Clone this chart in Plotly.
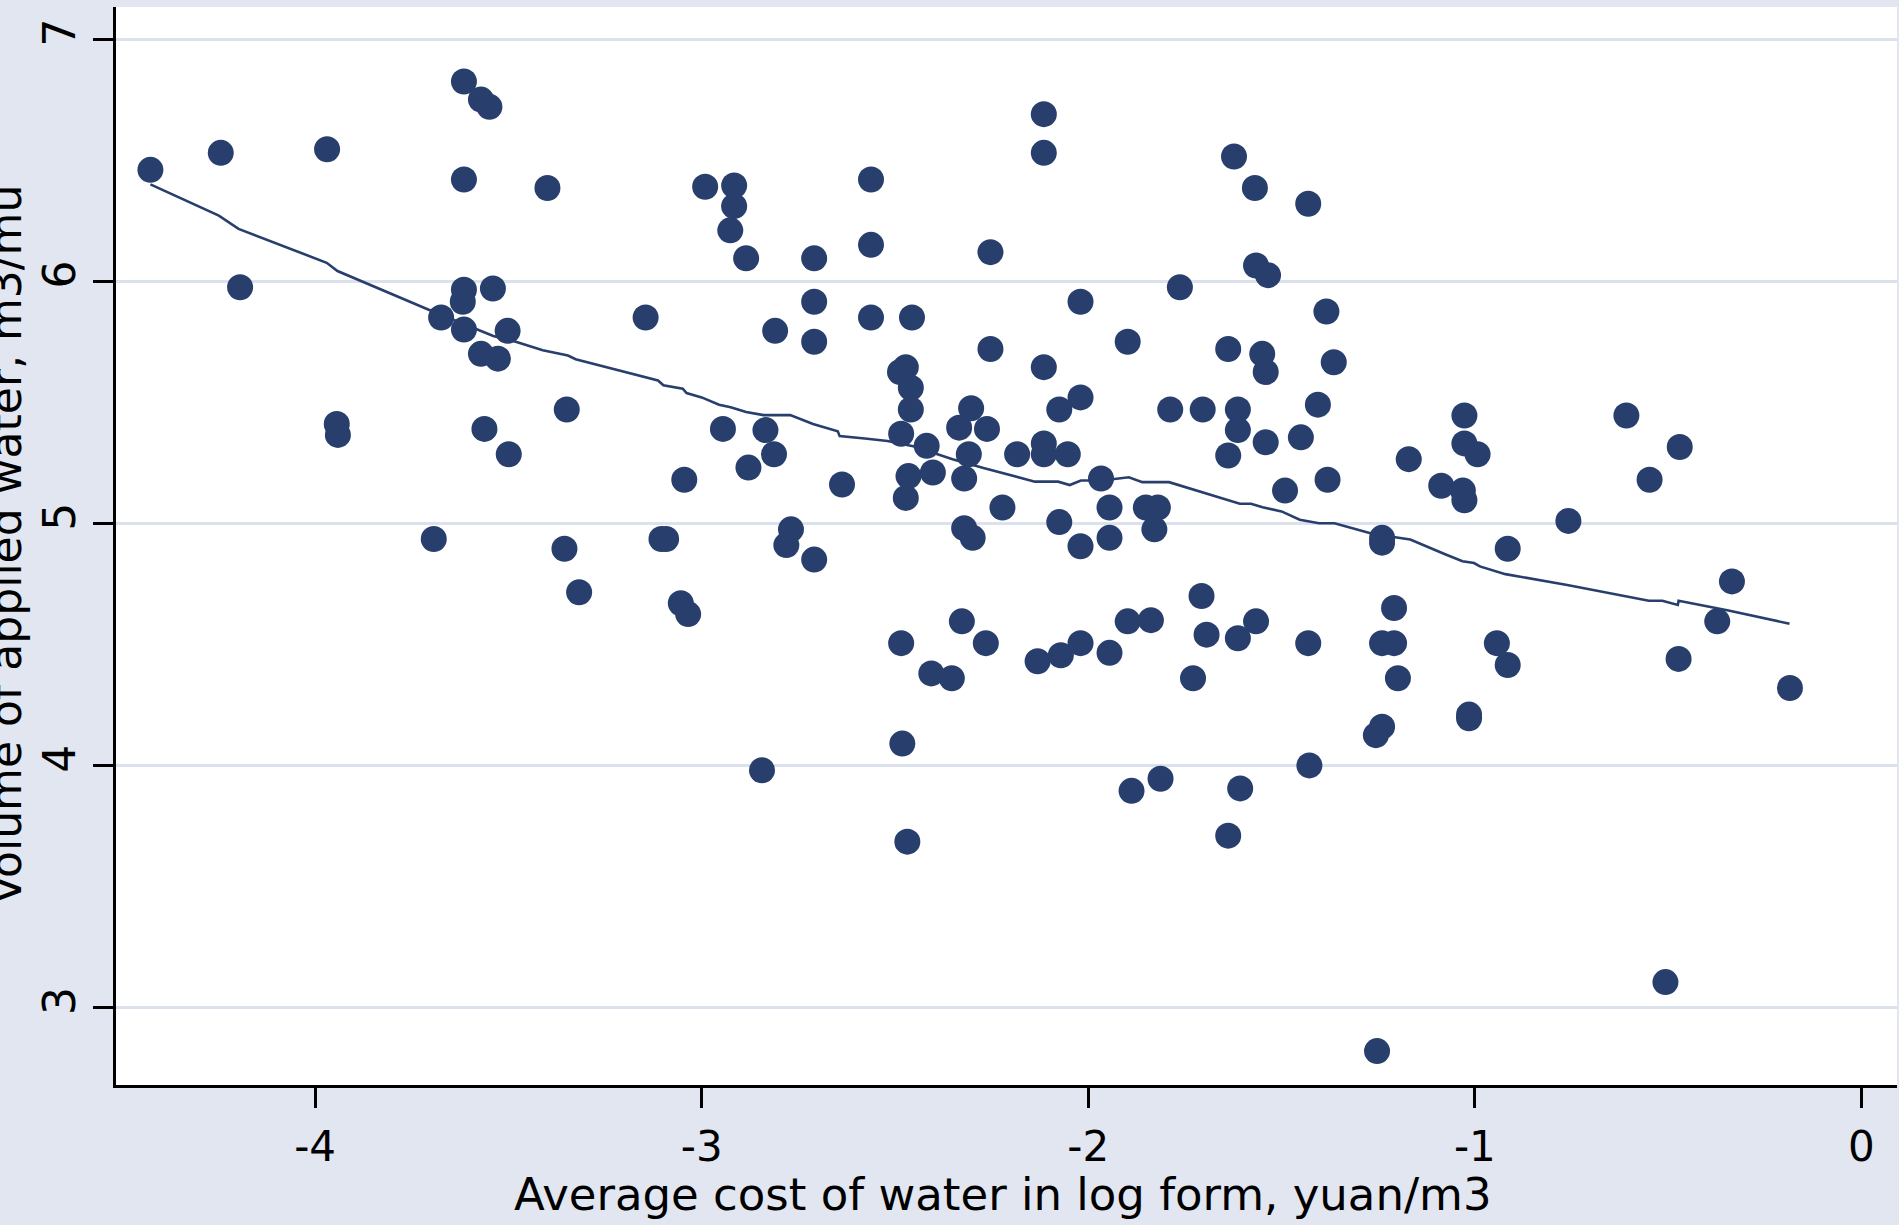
import plotly.graph_objects as go

# Scatter data: log average cost of water (x) vs volume of applied water (y)
cost_log = [
    -4.426, -4.244, -4.194, -3.969, -3.944, -3.941, -3.693, -3.674, -3.615, -3.571,
    -3.549, -3.615, -3.615, -3.618, -3.615, -3.571, -3.540, -3.527, -3.502, -3.562,
    -3.499, -3.399, -3.349, -3.355, -3.317, -3.145, -3.104, -3.092, -3.045, -3.054,
    -3.035, -2.991, -2.916, -2.916, -2.926, -2.885, -2.945, -2.879, -2.835, -2.810,
    -2.813, -2.844, -2.769, -2.781, -2.709, -2.709, -2.709, -2.709, -2.637, -2.562,
    -2.562, -2.562, -2.456, -2.472, -2.487, -2.459, -2.459, -2.484, -2.465, -2.472,
    -2.418, -2.402, -2.484, -2.481, -2.468, -2.406, -2.353, -2.334, -2.303, -2.309,
    -2.262, -2.321, -2.321, -2.299, -2.327, -2.265, -2.253, -2.253, -2.222, -2.184,
    -2.115, -2.115, -2.115, -2.115, -2.115, -2.131, -2.075, -2.053, -2.075, -2.071,
    -2.020, -2.020, -2.020, -2.020, -1.967, -1.945, -1.945, -1.945, -1.898, -1.898,
    -1.888, -1.838, -1.851, -1.820, -1.829, -1.813, -1.788, -1.763, -1.729, -1.707,
    -1.694, -1.704, -1.638, -1.638, -1.638, -1.623, -1.613, -1.613, -1.613, -1.607,
    -1.569, -1.566, -1.535, -1.550, -1.541, -1.541, -1.566, -1.491, -1.450, -1.431,
    -1.431, -1.428, -1.406, -1.384, -1.381, -1.365, -1.240, -1.240, -1.240, -1.209,
    -1.209, -1.199, -1.240, -1.256, -1.253, -1.171, -1.087, -1.027, -1.027, -1.031,
    -1.027, -0.993, -1.015, -1.015, -0.943, -0.915, -0.915, -0.758, -0.608, -0.548,
    -0.507, -0.470, -0.473, -0.373, -0.335, -0.185,
]
water_volume = [
    6.460, 6.530, 5.975, 6.545, 5.410, 5.365, 4.935, 5.850, 6.825, 6.750,
    6.720, 6.420, 5.965, 5.915, 5.800, 5.700, 5.970, 5.680, 5.795, 5.390,
    5.285, 6.385, 5.470, 4.895, 4.715, 5.850, 4.935, 4.935, 5.180, 4.670,
    4.625, 6.390, 6.395, 6.310, 6.210, 6.095, 5.390, 5.230, 5.385, 5.795,
    5.285, 3.980, 4.975, 4.910, 4.850, 6.095, 5.915, 5.750, 5.160, 6.420,
    6.150, 5.850, 5.850, 5.645, 5.625, 5.560, 5.470, 5.370, 5.195, 5.105,
    5.320, 5.210, 4.505, 4.090, 3.685, 4.380, 4.360, 5.395, 5.475, 5.285,
    5.390, 5.185, 4.980, 4.940, 4.595, 4.505, 6.120, 5.720, 5.065, 5.285,
    6.690, 6.530, 5.645, 5.330, 5.285, 4.430, 5.470, 5.285, 5.005, 4.455,
    5.915, 5.520, 4.905, 4.505, 5.185, 5.065, 4.940, 4.465, 5.750, 4.595,
    3.895, 4.600, 5.065, 5.065, 4.975, 3.945, 5.470, 5.975, 4.360, 4.700,
    4.540, 5.470, 5.280, 5.720, 3.710, 6.515, 5.470, 5.385, 4.525, 3.905,
    6.385, 6.065, 6.025, 5.700, 5.625, 5.335, 4.595, 5.135, 5.355, 6.320,
    4.505, 4.000, 5.490, 5.875, 5.180, 5.665, 4.940, 4.920, 4.505, 4.505,
    4.650, 4.360, 4.160, 4.125, 2.820, 5.265, 5.155, 5.445, 5.330, 5.135,
    5.095, 5.285, 4.195, 4.210, 4.505, 4.415, 4.895, 5.010, 5.445, 5.180,
    3.105, 5.315, 4.440, 4.595, 4.760, 4.320,
]

# Lowess smoother
smooth_x = [
    -4.426, -4.249, -4.198, -3.970, -3.942, -3.703, -3.539, -3.485, -3.411, -3.346,
    -3.326, -3.113, -3.099, -3.049, -3.039, -3.000, -2.955, -2.925, -2.885, -2.840,
    -2.771, -2.712, -2.648, -2.643, -2.578, -2.519, -2.450, -2.351, -2.271, -2.182,
    -2.138, -2.078, -2.048, -2.019, -1.965, -1.895, -1.860, -1.791, -1.736, -1.707,
    -1.638, -1.608, -1.579, -1.549, -1.500, -1.453, -1.403, -1.363, -1.263, -1.167,
    -1.077, -1.032, -1.002, -0.987, -0.921, -0.761, -0.550, -0.515, -0.475, -0.473,
    -0.344, -0.186,
]
smooth_y = [
    6.400, 6.271, 6.216, 6.076, 6.042, 5.880, 5.774, 5.752, 5.715, 5.693,
    5.678, 5.590, 5.570, 5.556, 5.538, 5.520, 5.490, 5.479, 5.460, 5.447,
    5.447, 5.410, 5.380, 5.360, 5.350, 5.340, 5.317, 5.265, 5.228, 5.190,
    5.172, 5.172, 5.158, 5.177, 5.177, 5.190, 5.170, 5.170, 5.143, 5.128,
    5.096, 5.081, 5.081, 5.066, 5.049, 5.015, 5.000, 5.000, 4.956, 4.933,
    4.872, 4.843, 4.836, 4.822, 4.790, 4.745, 4.680, 4.680, 4.663, 4.680,
    4.640, 4.585,
]

x_ticks = [-4, -3, -2, -1, 0]
y_ticks = [3, 4, 5, 6, 7]
x_title = "Average cost of water in log form, yuan/m3"
y_title = "Volume of applied water, m3/mu"

NAVY = "#283F6D"
BG = "#E1E6F0"
GRID = "#DCE2ED"
FONT = "DejaVu Sans"

fig = go.Figure()
fig.add_trace(go.Scatter(
    x=cost_log, y=water_volume, mode="markers",
    marker=dict(color=NAVY, size=26, line=dict(width=0)),
    showlegend=False, hoverinfo="skip",
))
fig.add_trace(go.Scatter(
    x=smooth_x, y=smooth_y, mode="lines",
    line=dict(color=NAVY, width=2.6),
    showlegend=False, hoverinfo="skip",
))

fig.update_layout(
    width=1899, height=1225,
    margin=dict(l=116, r=2, t=7, b=140, autoexpand=False),
    paper_bgcolor=BG, plot_bgcolor="white",
    font=dict(family=FONT, color="black"),
    xaxis=dict(
        range=[-4.515, 0.092], tickvals=x_ticks, ticktext=[str(v) for v in x_ticks],
        showgrid=False, zeroline=False,
        showline=True, linecolor="black", linewidth=3,
        ticks="outside", ticklen=20, tickwidth=3, tickcolor="black",
        tickfont=dict(family=FONT, size=42, color="black"),
        ticklabelstandoff=3,
        fixedrange=True,
    ),
    yaxis=dict(
        range=[2.68, 7.1325], tickvals=y_ticks, ticktext=[str(v) for v in y_ticks],
        showgrid=True, gridcolor=GRID, gridwidth=3, zeroline=False,
        showline=True, linecolor="black", linewidth=3,
        ticks="outside", ticklen=20, tickwidth=3, tickcolor="black",
        tickangle=-90,
        tickfont=dict(family=FONT, size=44, color="black"),
        fixedrange=True,
    ),
    annotations=[
        dict(text=x_title, xref="paper", yref="paper", x=0.4983, y=-0.102,
             xanchor="center", yanchor="middle", showarrow=False,
             font=dict(family=FONT, size=45, color="black")),
        dict(text=y_title, xref="paper", yref="paper", x=-0.0619, y=0.501,
             xanchor="center", yanchor="middle", showarrow=False, textangle=-90,
             font=dict(family=FONT, size=44, color="black")),
    ],
)

fig.write_html(
    "out.html",
    config={"displayModeBar": False},
    post_script="document.body.style.margin='0';document.body.style.overflow='hidden';",
)
